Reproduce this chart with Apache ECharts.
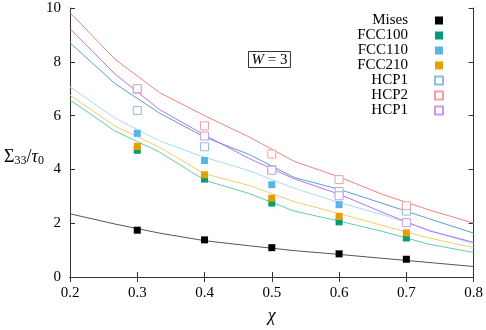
<!DOCTYPE html>
<html>
<head>
<meta charset="utf-8">
<script src="https://cdn.jsdelivr.net/npm/echarts@6/dist/echarts.min.js"></script>
<style>
  html, body { margin: 0; padding: 0; background: #fff; }
  #chart { width: 486px; height: 330px; }
</style>
</head>
<body>
<div id="chart"></div>
<script>
// 实验点 (chi = 0.3 ... 0.7)
var chiPts = [0.3, 0.4, 0.5, 0.6, 0.7];
var misesPts  = [1.74, 1.38, 1.09, 0.86, 0.66];
var fcc100Pts = [4.71, 3.64, 2.75, 2.05, 1.45];
var fcc110Pts = [5.34, 4.33, 3.43, 2.69, 2.02];
var fcc210Pts = [4.85, 3.80, 2.93, 2.25, 1.64];
var hcp1Pts   = [6.19, 4.84, 3.99, 3.18, 2.45];
var hcp2Pts   = [6.98, 5.62, 4.57, 3.62, 2.65];
var hcp1bPts  = [7.00, 5.24, 3.97, 3.02, 2.02];

// 拟合曲线 (10 个采样点)
var chiLine = [0.2, 0.2667, 0.3333, 0.4, 0.4667, 0.5333, 0.6, 0.6667, 0.7333, 0.8];
var misesLine  = [2.35, 1.97, 1.63, 1.35, 1.16, 0.98, 0.84, 0.69, 0.54, 0.39];
var fcc100Line = [6.58, 5.43, 4.64, 3.60, 3.10, 2.45, 2.08, 1.68, 1.22, 0.91];
var fcc110Line = [7.07, 5.91, 5.06, 4.45, 3.95, 3.30, 2.77, 2.30, 1.75, 1.23];
var fcc210Line = [6.76, 5.61, 4.82, 3.84, 3.40, 2.80, 2.36, 1.90, 1.45, 1.09];
var hcp1Line   = [8.71, 7.19, 6.09, 5.20, 4.55, 3.70, 3.26, 2.72, 2.17, 1.63];
var hcp2Line   = [9.83, 8.10, 6.85, 6.00, 5.20, 4.30, 3.72, 3.05, 2.50, 2.00];
var hcp1bLine  = [9.23, 7.55, 6.22, 5.28, 4.40, 3.65, 3.08, 2.38, 1.72, 1.29];

var font = "'Liberation Serif', 'DejaVu Serif', serif";

var zip = function (xs, ys) {
    return xs.map(function (x, i) { return [x, ys[i]]; });
};

// 名称, 点, 线, 点颜色, 线颜色, 空心
var groups = [
    ['Mises',  misesPts,  misesLine,  '#000000', '#555555', false],
    ['FCC100', fcc100Pts, fcc100Line, '#009e73', '#66c9aa', false],
    ['FCC110', fcc110Pts, fcc110Line, '#56b4e9', '#a8dbf4', false],
    ['FCC210', fcc210Pts, fcc210Line, '#e69f00', '#f4cc70', false],
    ['HCP1',   hcp1Pts,   hcp1Line,   '#8dbfdc', '#5c9dd0', true],
    ['HCP2',   hcp2Pts,   hcp2Line,   '#f3a0a0', '#f08080', true],
    ['HCP1b',  hcp1bPts,  hcp1bLine,  '#c79af2', '#b273f2', true]
];

var series = [];
groups.forEach(function (g) {
    series.push({
        type: 'line',
        data: zip(chiLine, g[2]),
        showSymbol: false,
        symbol: 'none',
        lineStyle: { color: g[4], width: 1 },
        silent: true,
        z: 2
    });
});
groups.forEach(function (g) {
    series.push({
        name: g[0],
        type: 'scatter',
        data: zip(chiPts, g[1]),
        symbol: 'rect',
        symbolSize: g[5] ? 8 : 7,
        itemStyle: g[5]
            ? { color: '#fff', borderColor: g[3], borderWidth: 1, opacity: 1 }
            : { color: g[3], opacity: 1 },
        z: 3
    });
});

var chart = echarts.init(document.getElementById('chart'));

var baseX = {
    type: 'value', min: 0.2, max: 0.8, interval: 0.1,
    axisLine: { lineStyle: { color: '#333', width: 1 } },
    axisTick: { inside: true, length: 5, lineStyle: { color: '#333' } },
    splitLine: { show: false }
};
var baseY = {
    type: 'value', min: 0, max: 10, interval: 2,
    axisLine: { show: true, lineStyle: { color: '#333', width: 1 } },
    axisTick: { show: true, inside: true, length: 5, lineStyle: { color: '#333' } },
    splitLine: { show: false }
};

chart.setOption({
    animation: false,
    textStyle: { fontFamily: font },
    grid: { left: 70, right: 10, top: 8, bottom: 48 },
    xAxis: [
        Object.assign({}, baseX, {
            position: 'bottom',
            name: 'χ', nameLocation: 'middle', nameGap: 30,
            nameTextStyle: { fontFamily: font, fontSize: 18, color: '#000', fontStyle: 'italic' },
            axisLabel: {
                margin: 9, fontFamily: font, fontSize: 15, color: '#000',
                formatter: function (v) { return v.toFixed(1); }
            }
        }),
        Object.assign({}, baseX, { position: 'top', axisLabel: { show: false } })
    ],
    yAxis: [
        Object.assign({}, baseY, {
            position: 'left',
            axisLabel: { margin: 9, fontFamily: font, fontSize: 15, color: '#000' }
        }),
        Object.assign({}, baseY, { position: 'right', axisLabel: { show: false } })
    ],
    legend: {
        orient: 'vertical',
        right: 37,
        top: 8,
        align: 'right',
        itemGap: 0,
        itemWidth: 8,
        itemHeight: 8,
        data: groups.map(function (g) { return g[0]; }),
        formatter: function (n) { return n === 'HCP1b' ? 'HCP1' : n; },
        textStyle: {
            fontFamily: font, fontSize: 15, color: '#000',
            width: 60, align: 'right', padding: [0, 22, 0, 0], lineHeight: 15
        },
        selectedMode: false
    },
    graphic: [
        {
            type: 'text',
            left: 248, top: 51,
            style: {
                text: '{i|W} = 3',
                fontFamily: font, fontSize: 15, fill: '#000',
                borderColor: '#333', borderWidth: 1, padding: [1, 3, 0, 3],
                rich: { i: { fontFamily: font, fontSize: 15, fontStyle: 'italic' } }
            }
        },
        {
            type: 'text',
            left: 4, top: 148,
            style: {
                text: 'Σ{s|33}/{i|τ}{s|0}',
                fontFamily: font, fontSize: 18, fill: '#000',
                rich: {
                    s: { fontFamily: font, fontSize: 12, padding: [8, 0, 0, 0] },
                    i: { fontFamily: font, fontSize: 18, fontStyle: 'italic' }
                }
            }
        }
    ],
    series: series
});
</script>
</body>
</html>
